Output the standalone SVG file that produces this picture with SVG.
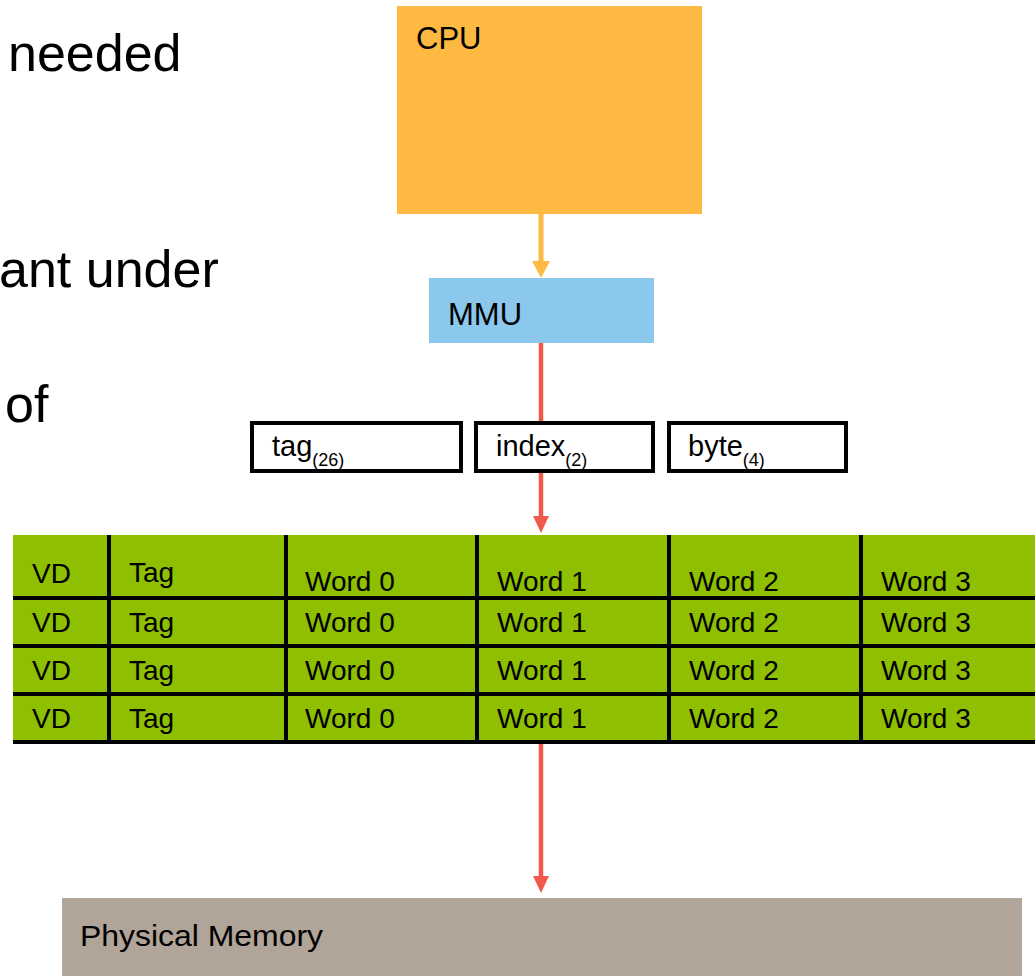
<svg xmlns="http://www.w3.org/2000/svg" width="1035" height="976" viewBox="0 0 1035 976">
<style>
text{font-family:"Liberation Sans",Arial,sans-serif;fill:#000}
.big{font-size:52px}
.lbl{font-size:31px}
.cell{font-size:28px}
.fld{font-size:29px}
.sub{font-size:18px}
.grid{stroke:#000;stroke-width:4}
.box{fill:#fff;stroke:#000;stroke-width:4}
.red{stroke:#F15A48;stroke-width:4.5;fill:none}
</style>
<g id="slide-text">
<text class="big" x="8" y="71">needed</text>
<text class="big" x="-1" y="287">ant under</text>
<text class="big" x="5" y="422">of</text>
</g>
<g id="cpu">
<rect x="397" y="6" width="305" height="208" fill="#FDB942"/>
<text class="lbl" x="416" y="49">CPU</text>
</g>
<g id="mmu">
<rect x="429" y="278" width="225" height="65" fill="#8CC8EC"/>
<text class="lbl" x="448" y="325">MMU</text>
</g>
<g id="connectors">
<path d="M541,214 V261" stroke="#FDB942" stroke-width="5" fill="none"/>
<path d="M532,261 L550,261 L541,278 Z" fill="#FDB942"/>
<path class="red" d="M541,343 V422"/>
<path class="red" d="M541,473 V517"/>
<path d="M533,516 L549,516 L541,533 Z" fill="#F15A48"/>
<path class="red" d="M541,742 V877"/>
<path d="M533,876 L549,876 L541,893 Z" fill="#F15A48"/>
</g>
<g id="address">
<rect class="box" x="252" y="423" width="209" height="48"/>
<text class="fld" x="272" y="456">tag<tspan class="sub" dy="10">(26)</tspan></text>
<rect class="box" x="476" y="423" width="177" height="48"/>
<text class="fld" x="496" y="456">index<tspan class="sub" dy="10">(2)</tspan></text>
<rect class="box" x="669" y="423" width="177" height="48"/>
<text class="fld" x="688" y="456">byte<tspan class="sub" dy="10">(4)</tspan></text>
</g>
<g id="cache">
<rect x="13" y="535" width="1022" height="207" fill="#8EBF00"/>
<path class="grid" d="M13,598 H1035 M13,646 H1035 M13,694 H1035 M13,742 H1035 M109,535 V744 M286,535 V744 M477,535 V744 M669,535 V744 M861,535 V744"/>
<g>
<text class="cell" x="32" y="583">VD</text><text class="cell" x="129" y="582">Tag</text><text class="cell" x="305" y="591">Word 0</text><text class="cell" x="497" y="591">Word 1</text><text class="cell" x="689" y="591">Word 2</text><text class="cell" x="881" y="591">Word 3</text>
<text class="cell" x="32" y="632">VD</text><text class="cell" x="129" y="632">Tag</text><text class="cell" x="305" y="632">Word 0</text><text class="cell" x="497" y="632">Word 1</text><text class="cell" x="689" y="632">Word 2</text><text class="cell" x="881" y="632">Word 3</text>
<text class="cell" x="32" y="680">VD</text><text class="cell" x="129" y="680">Tag</text><text class="cell" x="305" y="680">Word 0</text><text class="cell" x="497" y="680">Word 1</text><text class="cell" x="689" y="680">Word 2</text><text class="cell" x="881" y="680">Word 3</text>
<text class="cell" x="32" y="728">VD</text><text class="cell" x="129" y="728">Tag</text><text class="cell" x="305" y="728">Word 0</text><text class="cell" x="497" y="728">Word 1</text><text class="cell" x="689" y="728">Word 2</text><text class="cell" x="881" y="728">Word 3</text>
</g>
</g>
<g id="physical-memory">
<rect x="62" y="898" width="960" height="78" fill="#B1A499"/>
<text x="80" y="946" font-size="30" textLength="243" lengthAdjust="spacingAndGlyphs">Physical Memory</text>
</g>
</svg>
